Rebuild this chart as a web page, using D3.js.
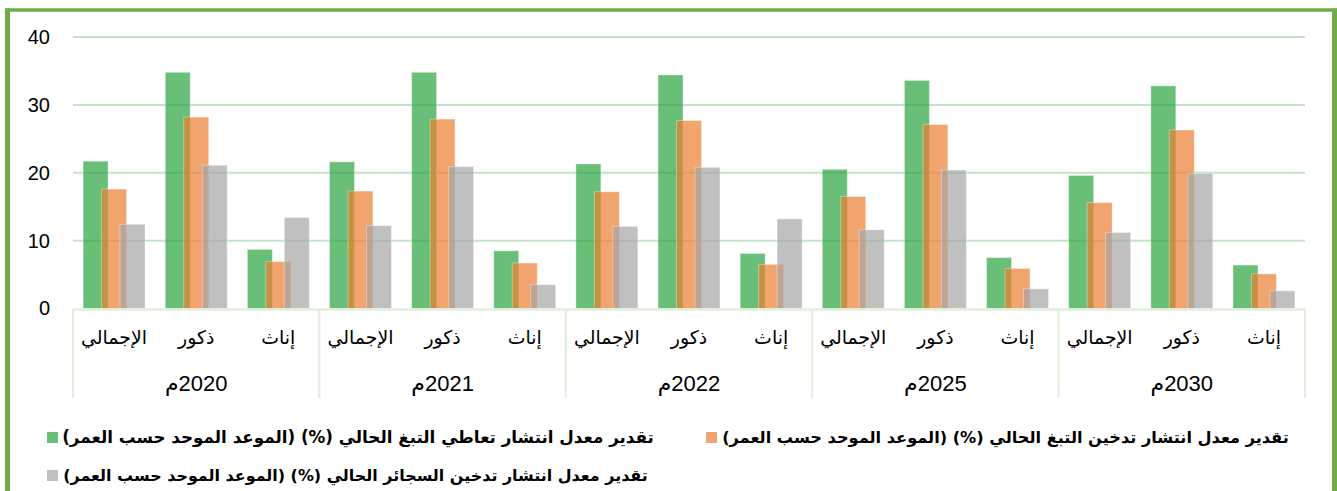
<!DOCTYPE html>
<html>
<head>
<meta charset="utf-8">
<script src="https://cdn.jsdelivr.net/npm/d3@7"></script>
<style>
  html, body { margin: 0; padding: 0; background: #ffffff; }
  svg { display: block; }
</style>
</head>
<body>
<svg id="chart" width="1337" height="491"></svg>
<script>
// ---------- DATA ----------
const years = ["2020م", "2021م", "2022م", "2025م", "2030م"];
const groups = ["الإجمالي", "ذكور", "إناث"];
const seriesNames = [
  "تقدير معدل انتشار تعاطي التبغ الحالي (%) (الموعد الموحد حسب العمر)",
  "تقدير معدل انتشار تدخين التبغ الحالي (%) (الموعد الموحد حسب العمر)",
  "تقدير معدل انتشار تدخين السجائر الحالي (%) (الموعد الموحد حسب العمر)"
];
// values per year, order: الإجمالي, ذكور, إناث
const tobaccoUse = [21.7, 34.8, 8.7,  21.6, 34.8, 8.5,  21.3, 34.4, 8.1,  20.5, 33.6, 7.5,  19.6, 32.8, 6.4];
const tobaccoSmoking = [17.6, 28.2, 6.9,  17.3, 27.9, 6.7,  17.2, 27.7, 6.5,  16.5, 27.1, 5.9,  15.6, 26.3, 5.1];
const cigaretteSmoking = [12.4, 21.1, 13.4,  12.2, 20.9, 3.5,  12.1, 20.8, 13.2,  11.6, 20.4, 2.9,  11.2, 19.9, 2.6];
const yTicks = [0, 10, 20, 30, 40];

const colors = ["#2aa43d", "#ED7D31", "#A5A5A5"];
const seriesValues = [tobaccoUse, tobaccoSmoking, cigaretteSmoking];

// ---------- LAYOUT ----------
const svg = d3.select("#chart");
const plotLeft = 73, plotRight = 1305, plotTop = 37, plotBottom = 308.5;

const cats = [];
years.forEach((yr, yi) => groups.forEach((g, gi) => cats.push({ id: yi + "_" + gi, year: yr, label: g, yi, gi })));

const x = d3.scaleBand().domain(cats.map(c => c.id)).range([plotLeft, plotRight]).padding(0);
const bw = x.bandwidth();
const xs = d3.scalePoint().domain(d3.range(3)).range([-0.225 * bw, 0.225 * bw]);
const barW = 0.304 * bw;
const y = d3.scaleLinear().domain([0, 40]).range([plotBottom, plotTop]);

// outer border
svg.append("line").attr("x1", 7.5).attr("x2", 7.5).attr("y1", 8.5).attr("y2", 491).attr("stroke", "#70AD47").attr("stroke-width", 5);
svg.append("line").attr("x1", 5).attr("x2", 1337).attr("y1", 10).attr("y2", 10).attr("stroke", "#70AD47").attr("stroke-width", 3.5);
svg.append("line").attr("x1", 1334.5).attr("x2", 1334.5).attr("y1", 8.5).attr("y2", 491).attr("stroke", "#70AD47").attr("stroke-width", 5);

// gridlines
svg.append("g").selectAll("line").data(yTicks.filter(t => t > 0)).join("line")
  .attr("x1", plotLeft).attr("x2", plotRight)
  .attr("y1", d => y(d)).attr("y2", d => y(d))
  .attr("stroke", "#c4e4c7").attr("stroke-width", 2);

// y axis labels
const yAxis = svg.append("g").attr("transform", `translate(${plotLeft},0)`)
  .call(d3.axisLeft(y).tickValues(yTicks).tickSize(0).tickPadding(23).tickFormat(d3.format("d")));
yAxis.select(".domain").remove();
yAxis.selectAll("text").attr("font-family", "'Liberation Sans', Arial, sans-serif").attr("font-size", 20).attr("fill", "#000");

// bars
seriesValues.forEach((vals, si) => {
  svg.append("g").selectAll("rect").data(cats).join("rect")
    .attr("x", (d) => x(d.id) + bw / 2 + xs(si) - barW / 2)
    .attr("width", barW)
    .attr("y", (d, i) => y(vals[i]))
    .attr("height", (d, i) => y(0) - y(vals[i]))
    .attr("fill", colors[si])
    .attr("fill-opacity", 0.7)
    .attr("stroke", "#ffffff").attr("stroke-opacity", 0.35).attr("stroke-width", 1);
});

// category axis lines
const axisColor = "#e2efda";
svg.append("line").attr("x1", plotLeft).attr("x2", plotRight).attr("y1", plotBottom + 1).attr("y2", plotBottom + 1)
  .attr("stroke", axisColor).attr("stroke-width", 2.5);
const bounds = d3.range(years.length + 1).map(i => i === years.length ? plotRight : x(cats[i * 3].id));
svg.append("g").selectAll("line").data(bounds).join("line")
  .attr("x1", d => d).attr("x2", d => d).attr("y1", plotBottom).attr("y2", 398)
  .attr("stroke", axisColor).attr("stroke-width", 2);

function fit(node, target) {
  const w = node.getComputedTextLength();
  const fs = parseFloat(node.getAttribute("font-size"));
  return fs * target / w;
}

// category labels
const catLabels = svg.append("g").selectAll("text").data(cats).join("text")
  .attr("x", d => x(d.id) + bw / 2)
  .attr("y", 344)
  .attr("text-anchor", "middle")
  .attr("direction", "rtl")
  .attr("font-family", "'DejaVu Sans', 'Noto Sans', sans-serif")
  .attr("font-size", 18)
  .attr("fill", "#000")
  .text(d => d.label);
const catFs = fit(catLabels.node(), 66);
catLabels.attr("font-size", catFs);

// year labels
svg.append("g").selectAll("text").data(years).join("text")
  .attr("x", (d, i) => (bounds[i] + bounds[i + 1]) / 2)
  .attr("y", 391)
  .attr("text-anchor", "middle")
  .attr("direction", "rtl")
  .attr("font-family", "'Liberation Sans', Arial, 'DejaVu Sans', sans-serif")
  .attr("font-size", 22)
  .attr("fill", "#000")
  .text(d => d);

// legend
const legendPos = [
  { sx: 47, ty: 437, tx0: 62, tx1: 654 },
  { sx: 706, ty: 437, tx0: 722, tx1: 1289 },
  { sx: 47, ty: 475, tx0: 63, tx1: 648 }
];
const lg = svg.append("g").selectAll("g").data(seriesNames).join("g");
lg.append("rect")
  .attr("x", (d, i) => legendPos[i].sx)
  .attr("y", (d, i) => legendPos[i].ty - 5)
  .attr("width", 11).attr("height", 11)
  .attr("fill", (d, i) => colors[i]).attr("fill-opacity", 0.7);
const lt = lg.append("text")
  .attr("x", (d, i) => (legendPos[i].tx0 + legendPos[i].tx1) / 2)
  .attr("y", (d, i) => legendPos[i].ty + 6)
  .attr("text-anchor", "middle")
  .attr("direction", "rtl")
  .attr("font-family", "'DejaVu Sans', 'Noto Sans', sans-serif")
  .attr("font-weight", "bold")
  .attr("font-size", 16)
  .attr("fill", "#000")
  .text(d => d);
lt.each(function(d, i) {
  const p = legendPos[i];
  d3.select(this).attr("font-size", fit(this, p.tx1 - p.tx0));
});
</script>
</body>
</html>
